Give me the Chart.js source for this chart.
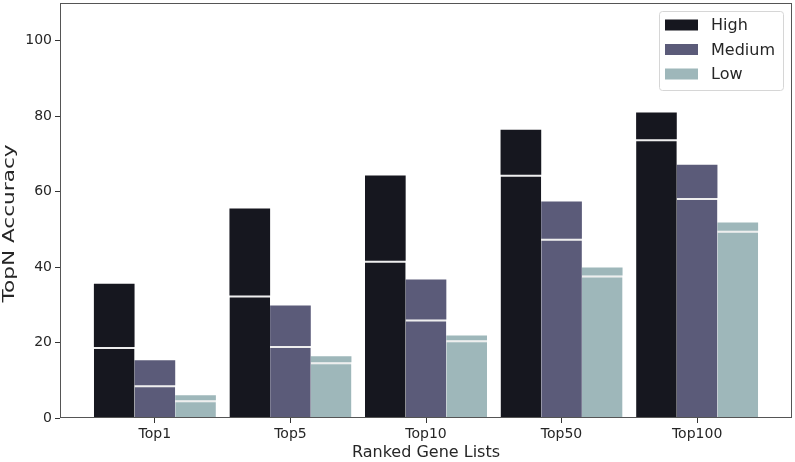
<!DOCTYPE html>
<html>
<head>
<meta charset="utf-8">
<script src="https://cdn.jsdelivr.net/npm/chart.js@4"></script>
<style>
  html, body { margin: 0; padding: 0; background: #ffffff; }
  #wrap { width: 795px; height: 462px; position: relative; }
</style>
</head>
<body>
<div id="wrap"><canvas id="c" width="795" height="462"></canvas></div>
<script>
// ---- data ----
const categories = ['Top1', 'Top5', 'Top10', 'Top50', 'Top100'];
const seriesNames = ['High', 'Medium', 'Low'];
const highTotal   = [35.6, 55.5, 64.3, 76.4, 81.0];
const highInner   = [18.8, 32.5, 41.7, 64.5, 73.9];
const mediumTotal = [15.3, 29.8, 36.7, 57.4, 67.1];
const mediumInner = [8.7, 19.1, 26.1, 47.5, 58.3];
const lowTotal    = [6.0, 16.4, 21.9, 39.9, 51.8];
const lowInner    = [4.7, 14.8, 20.6, 37.8, 49.6];
const yTicks = [0, 20, 40, 60, 80, 100];
const xTitle = 'Ranked Gene Lists';
const yTitle = 'TopN Accuracy';

const colors = ['#16171f', '#5b5b79', '#9eb7ba'];
const totals = [highTotal, mediumTotal, lowTotal];
const inners = [highInner, mediumInner, lowInner];

const datasets = [];
seriesNames.forEach((name, s) => {
  datasets.push({
    label: name,
    stack: name,
    isTotal: true,
    data: categories.map((c, i) => ({ x: i, y: [inners[s][i], totals[s][i]] })),
    backgroundColor: colors[s],
    borderWidth: 0
  });
  datasets.push({
    label: name + ' (inner)',
    stack: name,
    isTotal: false,
    data: categories.map((c, i) => ({ x: i, y: inners[s][i] })),
    backgroundColor: colors[s],
    borderColor: '#eeeeee',
    borderSkipped: false,
    borderWidth: { top: 2, left: 0, right: 0, bottom: 0 }
  });
});

const frameAndLegend = {
  id: 'frameAndLegend',
  afterDraw(chart) {
    const ctx = chart.ctx;
    const a = chart.chartArea;
    ctx.save();
    ctx.strokeStyle = '#555555';
    ctx.lineWidth = 1;
    ctx.strokeRect(Math.round(a.left) + 0.5, Math.round(a.top) + 0.5,
                   Math.round(a.right - a.left) - 1, Math.round(a.bottom - a.top) - 1);
    // y axis title (stretched along its length as in the reference)
    ctx.save();
    ctx.translate(14, (a.top + a.bottom) / 2 + 13);
    ctx.rotate(-Math.PI / 2);
    ctx.scale(1.31, 1);
    ctx.font = '16.5px "DejaVu Sans"';
    ctx.fillStyle = '#262626';
    ctx.textAlign = 'center';
    ctx.textBaseline = 'alphabetic';
    ctx.fillText(yTitle, 0, 0);
    ctx.restore();
    // legend box (top right inside plot)
    const items = chart.data.datasets.filter(d => d.isTotal);
    const bw = 124, bh = 79;
    const bx = a.right - 9 - bw, by = a.top + 8;
    ctx.fillStyle = 'rgba(255,255,255,0.8)';
    ctx.strokeStyle = '#d6d6d6';
    ctx.lineWidth = 1;
    ctx.beginPath();
    ctx.roundRect(bx + 0.5, by + 0.5, bw, bh, 3);
    ctx.fill();
    ctx.stroke();
    ctx.font = '16px "DejaVu Sans"';
    ctx.textBaseline = 'middle';
    ctx.textAlign = 'left';
    items.forEach((d, k) => {
      const cy = by + 14 + k * 24.5;
      ctx.fillStyle = d.backgroundColor;
      ctx.fillRect(bx + 6, cy - 5.5, 33, 11);
      ctx.fillStyle = '#262626';
      ctx.fillText(d.label, bx + 52, cy + 1);
    });
    ctx.restore();
  }
};

new Chart(document.getElementById('c'), {
  type: 'bar',
  data: { datasets },
  plugins: [frameAndLegend],
  options: {
    responsive: false,
    animation: false,
    devicePixelRatio: 1,
    layout: { padding: { top: 3, right: 3, left: 0, bottom: 0 } },
    categoryPercentage: 0.9,
    barPercentage: 1.0,
    plugins: { legend: { display: false }, tooltip: { enabled: false } },
    scales: {
      x: {
        type: 'linear',
        min: -0.7,
        max: categories.length - 1 + 0.7,
        offset: false,
        afterBuildTicks(scale) {
          scale.ticks = categories.map((c, i) => ({ value: i }));
        },
        afterFit(scale) {
          scale.height = 44;
          scale.paddingLeft = 0; scale.paddingRight = 0;
        },
        grid: { offset: false, drawOnChartArea: false, drawTicks: true, tickLength: 5, color: '#333333' },
        border: { display: false },
        ticks: {
          autoSkip: false,
          maxRotation: 0,
          padding: 3,
          color: '#262626',
          font: { family: 'DejaVu Sans', size: 14 },
          callback: (v) => categories[Math.round(v)] ?? ''
        },
        title: {
          display: true,
          text: xTitle,
          color: '#262626',
          font: { family: 'DejaVu Sans', size: 16 },
          padding: { top: 0, bottom: 0 }
        }
      },
      y: {
        min: 0,
        max: 110,
        stacked: false,
        afterBuildTicks(scale) {
          scale.ticks = yTicks.map(v => ({ value: v }));
        },
        afterFit(scale) {
          scale.width = 60;
          scale.paddingTop = 0; scale.paddingBottom = 0;
        },
        grid: { drawOnChartArea: false, drawTicks: true, tickLength: 5, color: '#333333' },
        border: { display: false },
        ticks: {
          padding: 3,
          color: '#262626',
          font: { family: 'DejaVu Sans', size: 14 }
        },
        title: { display: false }
      }
    }
  }
});
</script>
</body>
</html>
